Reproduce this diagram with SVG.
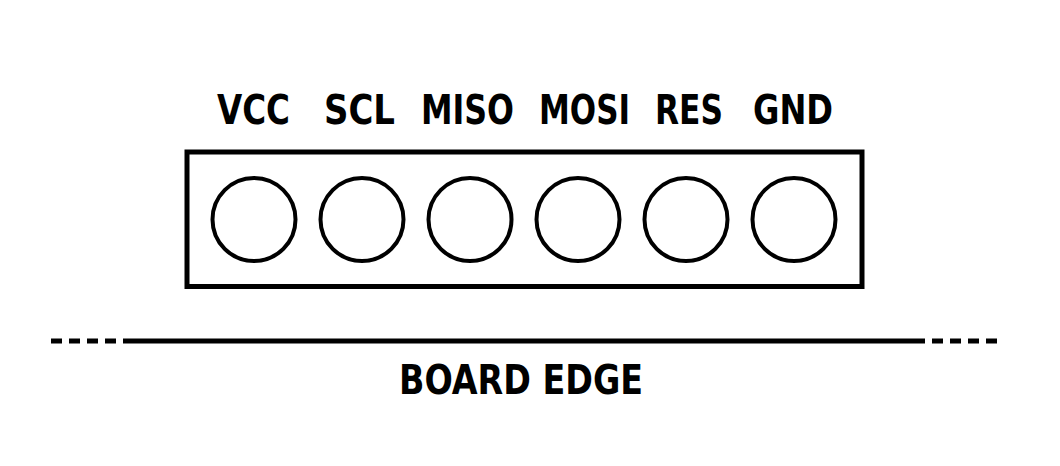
<svg xmlns="http://www.w3.org/2000/svg" width="1060" height="466" viewBox="0 0 1060 466">
<style>
.lbl{font-family:"DejaVu Sans Condensed","DejaVu Sans","Liberation Sans",sans-serif;font-weight:bold;font-stretch:condensed;font-size:41px;fill:#000}
.pin{fill:none;stroke:#000;stroke-width:4}
.ln{stroke:#000;stroke-width:5;fill:none}
</style>
<rect width="1060" height="466" fill="#fff"/>
<g id="header">
<rect x="187" y="152" width="675" height="134.5" class="ln"/>
</g>
<g id="pin-vcc"><circle cx="254" cy="219.5" r="41.5" class="pin"/><text class="lbl" x="217" y="124" textLength="73" lengthAdjust="spacingAndGlyphs">VCC</text></g>
<g id="pin-scl"><circle cx="362" cy="219.5" r="41.5" class="pin"/><text class="lbl" x="324" y="124" textLength="71" lengthAdjust="spacingAndGlyphs">SCL</text></g>
<g id="pin-miso"><circle cx="470" cy="219.5" r="41.5" class="pin"/><text class="lbl" x="421" y="124" textLength="93" lengthAdjust="spacingAndGlyphs">MISO</text></g>
<g id="pin-mosi"><circle cx="578" cy="219.5" r="41.5" class="pin"/><text class="lbl" x="539" y="124" textLength="91" lengthAdjust="spacingAndGlyphs">MOSI</text></g>
<g id="pin-res"><circle cx="686" cy="219.5" r="41.5" class="pin"/><text class="lbl" x="655" y="124" textLength="68" lengthAdjust="spacingAndGlyphs">RES</text></g>
<g id="pin-gnd"><circle cx="794" cy="219.5" r="41.5" class="pin"/><text class="lbl" x="753" y="124" textLength="80" lengthAdjust="spacingAndGlyphs">GND</text></g>
<g id="board-edge">
<line x1="51" y1="341" x2="123" y2="341" class="ln" stroke-dasharray="11 7"/>
<line x1="123" y1="341" x2="925" y2="341" class="ln"/>
<line x1="932" y1="341" x2="997" y2="341" class="ln" stroke-dasharray="11 7"/>
<text class="lbl" x="399" y="394" textLength="244" lengthAdjust="spacingAndGlyphs">BOARD EDGE</text>
</g>
</svg>
